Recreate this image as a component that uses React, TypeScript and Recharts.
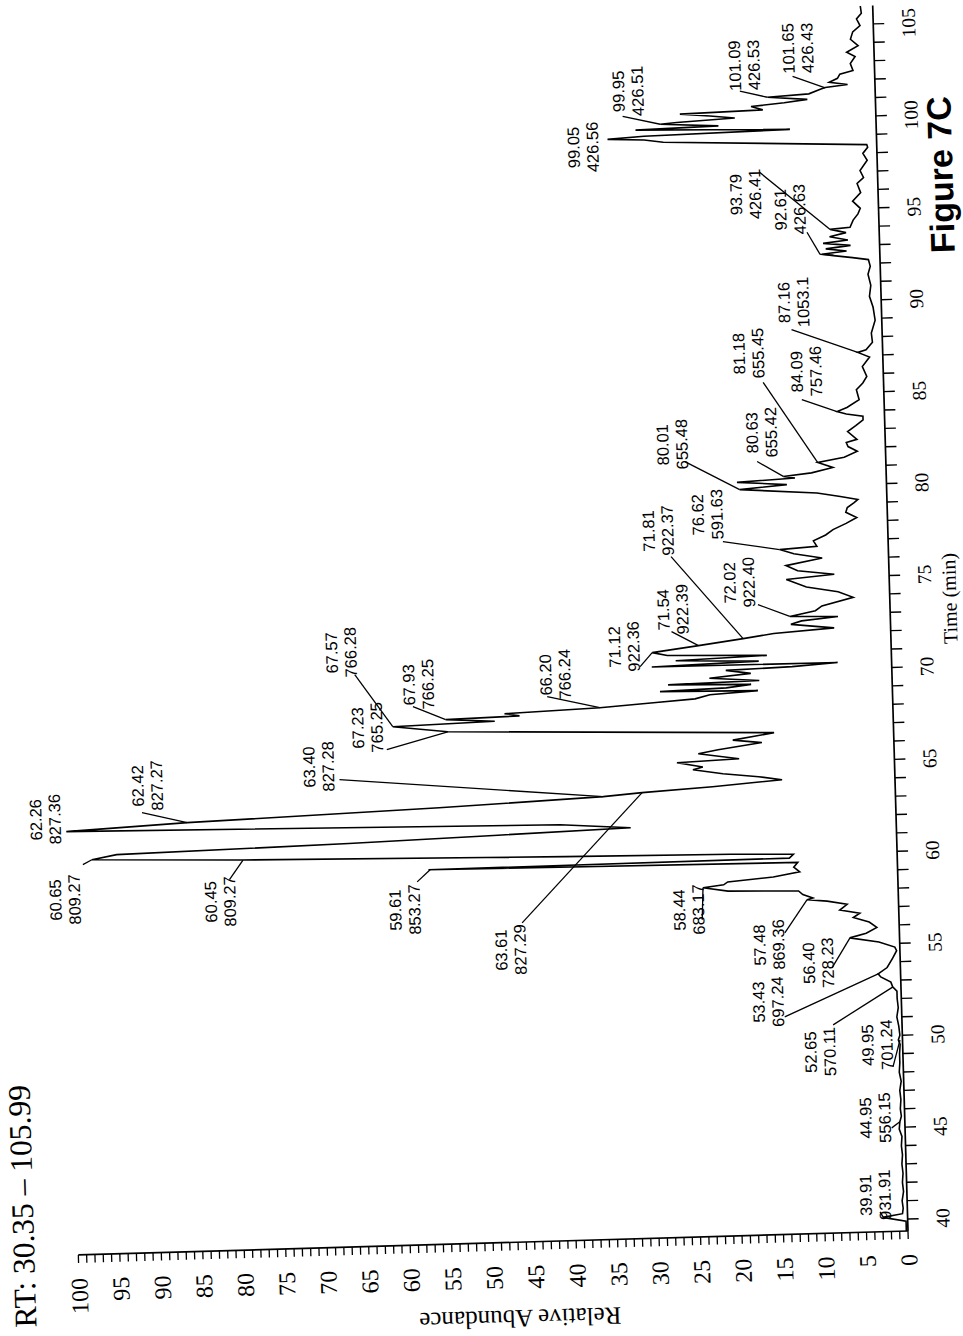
import React from 'react';
import { LineChart, Line, XAxis, YAxis, ReferenceLine, ReferenceDot } from 'recharts';

// ---- chromatogram trace (time in min, relative abundance in %) ----
const TIME_MIN = [
  39.35, 39.89, 40.13, 40.3, 40.6, 41.0, 41.5, 42.0, 42.5, 43.0, 43.5, 44.0, 44.5, 44.9, 45.3, 45.6, 46.0, 46.5, 47.0, 47.5,
  48.0, 48.5, 49.0, 49.5, 49.75, 50.0, 50.5, 51.0, 51.5, 52.0, 52.4, 52.64, 52.9, 53.2, 53.37, 53.7, 54.2, 54.6, 54.8, 55.1,
  55.37, 55.6, 55.9, 56.2, 56.47, 56.7, 56.9, 57.2, 57.4, 57.51, 57.6, 57.8, 58.0, 58.1, 58.32, 58.45, 58.6, 58.8, 59.04, 59.3,
  59.55, 59.73, 59.8, 60.0, 60.1, 60.23, 60.55, 60.8, 61.04, 61.28, 61.5, 61.7, 61.97, 62.37, 62.67, 63.08, 63.43, 63.59, 63.8, 64.07,
  64.27, 64.49, 64.75, 64.89, 65.16, 65.28, 65.61, 65.8, 66.12, 66.3, 66.64, 67.2, 67.56, 67.7, 67.86, 67.95, 68.09, 68.27, 68.46, 68.6,
  68.8, 68.95, 69.05, 69.15, 69.3, 69.4, 69.5, 69.7, 69.9, 70.1, 70.2, 70.35, 70.4, 70.55, 70.7, 70.85, 71.0, 71.18, 71.49, 71.8,
  72.03, 72.24, 72.5, 72.67, 72.85, 72.93, 73.2, 73.45, 73.87, 74.2, 74.5, 74.94, 75.15, 75.4, 75.7, 76.06, 76.33, 76.58, 76.7, 77.0,
  77.3, 77.58, 77.9, 78.2, 78.5, 78.76, 79.0, 79.18, 79.37, 79.6, 79.9, 80.1, 80.3, 80.45, 80.55, 80.7, 80.96, 81.25, 81.5, 81.8,
  82.07, 82.29, 82.45, 82.89, 83.2, 83.5, 83.7, 83.84, 83.99, 84.2, 84.6, 85.15, 85.5, 85.85, 86.4, 86.9, 87.17, 87.3, 87.7, 88.2,
  88.9, 89.6, 90.2, 90.8, 91.4, 91.83, 92.2, 92.33, 92.47, 92.56, 92.7, 92.85, 93.0, 93.15, 93.3, 93.5, 93.7, 93.9, 93.98, 94.37,
  94.7, 95.0, 95.4, 95.85, 96.35, 96.67, 97.05, 97.6, 97.98, 98.3, 98.45, 98.9, 99.05, 99.14, 99.25, 99.4, 99.5, 99.6, 99.7, 99.88,
  99.95, 100.1, 100.25, 100.4, 100.5, 100.7, 100.85, 101.0, 101.18, 101.3, 101.53, 101.62, 101.75, 101.9, 102.1, 102.32, 102.5, 102.88, 103.26, 103.5,
  103.84, 104.2, 104.6, 104.93, 105.3, 105.6, 106.0,
];
const REL_ABUNDANCE = [
  0.2, 0.2, 3.0, 0.6, 0.5, 0.6, 0.4, 0.5, 0.4, 0.5, 0.4, 0.5, 0.4, 0.7, 0.6, 0.4, 0.5, 0.4, 0.5, 0.3,
  0.5, 0.4, 0.4, 0.3, 0.5, 0.3, 0.4, 0.6, 0.4, 0.5, 0.5, 1.0, 1.2, 2.4, 2.7, 1.6, 0.9, 0.4, 0.6, 2.5,
  6.0, 4.0, 2.7, 3.6, 5.5, 4.7, 7.1, 6.2, 8.6, 11.0, 10.3, 11.5, 12.0, 20.5, 23.5, 21.0, 20.5, 15.0, 11.8, 12.5,
  12.0, 56.5, 13.0, 12.5, 20.0, 40.0, 78.8, 97.0, 94.0, 66.0, 48.0, 32.0, 40.5, 100.0, 85.4, 55.0, 35.2, 30.5, 22.0, 13.6,
  16.4, 20.7, 24.3, 23.1, 26.2, 18.7, 23.6, 21.2, 15.9, 19.4, 14.4, 53.7, 60.3, 48.0, 53.9, 45.0, 46.8, 35.3, 28.5, 23.8,
  22.0, 16.2, 28.0, 20.0, 17.0, 27.0, 16.0, 22.0, 17.0, 20.0, 12.0, 6.5, 28.9, 16.0, 26.0, 15.0, 27.0, 28.8, 23.2, 17.8,
  14.1, 6.8, 12.0, 10.7, 6.3, 12.1, 9.0, 8.2, 4.4, 6.2, 10.0, 12.4, 6.6, 11.0, 12.4, 8.0, 11.4, 13.1, 8.6, 9.0,
  7.5, 6.6, 5.0, 3.7, 5.0, 4.8, 4.0, 3.5, 5.6, 8.4, 17.7, 12.0, 18.0, 11.0, 12.4, 9.0, 6.4, 8.2, 5.0, 3.4,
  4.5, 4.7, 3.4, 4.5, 3.5, 2.6, 2.6, 4.6, 5.7, 4.5, 3.0, 3.3, 2.5, 2.0, 2.5, 1.6, 3.0, 2.0, 1.2, 1.3,
  0.8, 1.0, 1.4, 1.2, 1.5, 1.2, 1.4, 3.3, 5.6, 7.0, 4.0, 6.5, 3.5, 6.8, 3.8, 6.0, 4.0, 5.9, 3.5, 3.1,
  2.5, 2.2, 3.1, 2.1, 2.5, 1.7, 2.1, 1.2, 1.7, 1.1, 1.2, 25.7, 28.0, 32.4, 28.0, 10.4, 20.0, 29.0, 19.0, 26.0,
  24.0, 17.0, 20.0, 23.6, 13.6, 15.0, 11.0, 8.2, 13.0, 8.0, 6.6, 6.0, 3.3, 5.5, 4.5, 4.2, 2.6, 2.9, 2.3, 3.3,
  1.9, 2.8, 2.5, 1.6, 2.0, 1.4, 1.5,
];

// ---- axis ticks ----
const TIME_TICKS = Array.from({ length: 66 }, (_, i) => 40 + i);
const ABUND_TICKS = Array.from({ length: 101 }, (_, i) => i);

// ---- peak annotations ----
const PEAK_RT = [
  '39.91', '44.95', '49.95', '52.65', '53.43', '56.40', '57.48', '58.44', '59.61', '60.45', '60.65', '62.26',
  '62.42', '63.40', '63.61', '67.23', '67.57', '67.93', '66.20', '71.12', '71.54', '71.81', '72.02', '76.62',
  '80.01', '80.63', '81.18', '84.09', '87.16', '92.61', '93.79', '99.05', '99.95', '101.09', '101.65',
];
const PEAK_MZ = [
  '931.91', '556.15', '701.24', '570.11', '697.24', '728.23', '869.36', '683.17', '853.27', '809.27', '809.27', '827.36',
  '827.27', '827.28', '827.29', '765.25', '766.28', '766.25', '766.24', '922.36', '922.39', '922.37', '922.40', '591.63',
  '655.48', '655.42', '655.45', '757.46', '1053.1', '426.63', '426.41', '426.56', '426.51', '426.53', '426.43',
];
const LABEL_TIME = [
  41.36, 45.55, 49.51, 49.22, 52.02, 54.06, 55.12, 57.15, 57.59, 58.32, 58.67, 63.06,
  64.74, 65.5, 55.25, 67.55, 71.67, 69.81, 70.14, 71.55, 73.49, 77.8, 74.85, 78.6,
  82.46, 82.97, 87.29, 86.22, 90.0, 95.05, 95.94, 98.75, 101.73, 102.95, 103.8,
];
const LABEL_ABUND = [
  3.85, 3.58, 3.09, 9.98, 16.07, 9.9, 15.76, 25.3, 59.5, 81.7, 100.4, 102.5,
  90.1, 69.4, 46.9, 63.4, 66.3, 57.1, 40.6, 32.2, 26.2, 27.7, 18.1, 21.7,
  25.7, 14.9, 16.2, 9.3, 10.6, 10.7, 16.0, 35.4, 29.8, 15.7, 9.2,
];
// leader segments: [time1, abund1, time2, abund2]
const LEADERS = [
  [40.43, 3.3, 40.12, 2.9], [44.98, 1.6, 45.3, 0.6], [48.29, 1.24, 49.74, 0.3], [50.67, 8.3, 52.64, 0.96],
  [51.18, 14.1, 53.37, 2.7], [53.77, 8.24, 55.37, 5.97], [55.74, 13.8, 57.51, 11.0], [56.58, 23.7, 58.32, 23.5],
  [59.09, 57.9, 59.73, 56.3], [59.5, 80.5, 60.55, 78.8], [60.55, 98.1, 60.8, 97.0], [63.28, 90.8, 62.67, 85.4],
  [64.77, 66.9, 63.43, 35.2], [56.7, 45.4, 63.59, 30.5], [66.32, 61.1, 67.2, 53.7], [70.45, 64.7, 67.56, 60.3],
  [68.62, 57.8, 67.86, 53.9], [68.95, 41.6, 68.27, 35.3], [70.44, 30.3, 71.18, 28.8], [72.29, 26.4, 71.49, 23.2],
  [76.37, 26.2, 71.8, 17.8], [73.62, 15.9, 72.93, 12.1], [77.1, 19.9, 76.58, 13.1], [81.51, 24.2, 79.9, 17.7],
  [81.4, 15.5, 80.55, 12.4], [85.69, 14.5, 81.25, 8.2], [84.7, 9.9, 83.99, 5.7], [88.52, 10.9, 87.17, 3.0],
  [93.78, 8.7, 92.56, 7.2], [92.56, 7.2, 92.5, 5.6], [97.11, 14.2, 93.9, 5.9], [100.37, 30.5, 99.88, 26.0],
  [101.55, 16.3, 101.18, 13.0], [102.28, 9.9, 101.6, 6.0],
];

const data = TIME_MIN.map((t, i) => ({ t, a: REL_ABUNDANCE[i] }));

// ---- layout (chart drawn upright, then rotated like the scanned page) ----
const W = 1340;
const H = 1000;
const MARGIN = { top: 70, right: 24, bottom: 40, left: 20 };
const Y_W = 70;
const CORNER_X = MARGIN.left + Y_W; // plot left
const CORNER_Y = MARGIN.top + 830; // plot bottom
const PAGE_CORNER = { x: 908, y: 1231 };
const ROTATION = -91.65;

const SERIF = "'Liberation Serif', 'Times New Roman', Times, serif";
const SANS = "'Liberation Sans', Arial, Helvetica, sans-serif";

const PeakText = ({ cx, cy, rt, mz }: { cx: number; cy: number; rt: string; mz: string }) => (
  <text textAnchor="middle" fontSize={16.5} fontFamily={SANS} fill="#000">
    <tspan x={cx} y={cy - 3.5}>{rt}</tspan>
    <tspan x={cx} y={cy + 15.5}>{mz}</tspan>
  </text>
);

export default function App() {
  return (
    <div style={{ position: 'fixed', left: 0, top: 0, width: 963, height: 1336, overflow: 'hidden', background: '#fff' }}>
      <div
        style={{
          position: 'absolute',
          left: PAGE_CORNER.x - CORNER_X,
          top: PAGE_CORNER.y - CORNER_Y,
          width: W,
          height: H,
          transformOrigin: `${CORNER_X}px ${CORNER_Y}px`,
          transform: `rotate(${ROTATION}deg)`,
        }}
      >
        <LineChart width={W} height={H} data={data} margin={MARGIN}>
          <XAxis
            dataKey="t"
            type="number"
            domain={[39.35, 106]}
            allowDataOverflow
            ticks={TIME_TICKS}
            interval={0}
            tickSize={11}
            tickMargin={17}
            height={60}
            tickFormatter={(v: number) => (v % 5 === 0 ? String(v) : '')}
            axisLine={{ stroke: '#000', strokeWidth: 1.7 }}
            tickLine={{ stroke: '#000', strokeWidth: 1.4 }}
            tick={{ fill: '#000', fontSize: 19.5, fontFamily: SERIF }}
          />
          <YAxis
            type="number"
            domain={[0, 100]}
            allowDataOverflow
            ticks={ABUND_TICKS}
            interval={0}
            width={Y_W}
            tickSize={8}
            tickMargin={15}
            tickFormatter={(v: number) => (v % 5 === 0 ? String(v) : '')}
            axisLine={{ stroke: '#000', strokeWidth: 1.7 }}
            tickLine={{ stroke: '#000', strokeWidth: 1.3 }}
            tick={{ fill: '#000', fontSize: 24, fontFamily: SERIF }}
          />
          <Line type="linear" dataKey="a" stroke="#000" strokeWidth={1.6} dot={false} isAnimationActive={false} />
          {LEADERS.map((s, i) => (
            <ReferenceLine
              key={`ld${i}`}
              segment={[{ x: s[0], y: s[1] }, { x: s[2], y: s[3] }]}
              stroke="#000"
              strokeWidth={1.3}
              ifOverflow="visible"
            />
          ))}
          {PEAK_RT.map((rt, i) => (
            <ReferenceDot
              key={`pk${i}`}
              x={LABEL_TIME[i]}
              y={LABEL_ABUND[i]}
              r={0}
              ifOverflow="visible"
              shape={(p: any) => <PeakText cx={p.cx} cy={p.cy} rt={rt} mz={PEAK_MZ[i]} />}
            />
          ))}
        </LineChart>
        <div style={{ position: 'absolute', left: 19, top: 0, fontSize: 31.5, lineHeight: '32px', fontFamily: SERIF, whiteSpace: 'nowrap', color: '#000' }}>
          RT: 30.35 – 105.99
        </div>
        <div
          style={{
            position: 'absolute', left: 14, top: 510, fontSize: 25, fontFamily: SERIF, whiteSpace: 'nowrap', color: '#000',
            transform: 'translate(-50%, -50%) rotate(-90deg)',
          }}
        >
          Relative Abundance
        </div>
        <div
          style={{
            position: 'absolute', left: 721, top: 960, fontSize: 20, fontFamily: SERIF, whiteSpace: 'nowrap', color: '#000',
            transform: 'translate(-50%, -50%)',
          }}
        >
          Time (min)
        </div>
        <div
          style={{
            position: 'absolute', left: 1145, top: 963, fontSize: 34, lineHeight: '38px', fontWeight: 'bold', fontFamily: SANS, whiteSpace: 'nowrap', color: '#000',
            transform: 'translate(-50%, -50%)',
          }}
        >
          Figure 7C
        </div>
      </div>
    </div>
  );
}
